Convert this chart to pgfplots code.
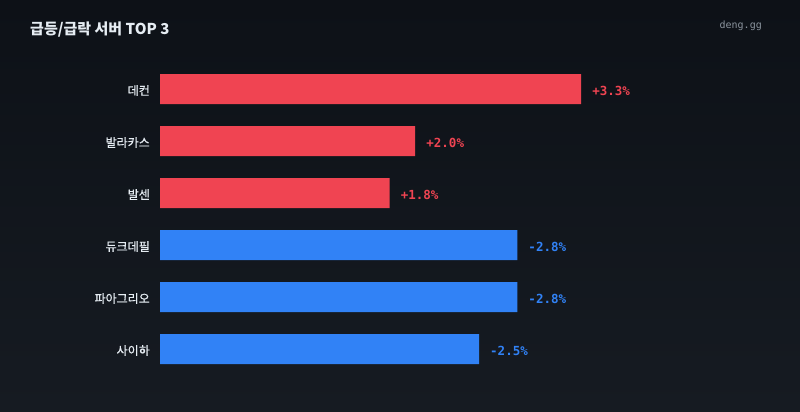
\documentclass[border=0pt]{standalone}
\usepackage{fontspec}
\setmainfont{Noto Sans CJK KR}
\newfontfamily\monofont{DejaVu Sans Mono}
\newfontfamily\labfont[FakeBold=0.6]{Noto Sans CJK KR}
\usepackage{pgfplots}
\usepackage{pgfplotstable}
\pgfplotsset{compat=1.18}
\definecolor{bgtop}{HTML}{0D1117}
\definecolor{bgbot}{HTML}{161B22}
\definecolor{upred}{HTML}{F04452}
\definecolor{downblue}{HTML}{3182F6}
\definecolor{fg}{HTML}{E6EDF3}
\definecolor{muted}{HTML}{8B949E}
\pgfplotstableread{
val pos lab
3.3 0 +3.3\%
2.0 1 +2.0\%
1.8 2 +1.8\%
}\uptable
\pgfplotstableread{
val pos lab
2.8 3 -2.8\%
2.8 4 -2.8\%
2.5 5 -2.5\%
}\downtable
\begin{document}
\begin{tikzpicture}[x=1pt,y=1pt]
\shade[top color=bgtop,bottom color=bgbot] (0,0) rectangle (800,412);
\node[anchor=base west,font=\bfseries\fontsize{15}{18}\selectfont,text=fg,inner sep=0] at (30,377) {급등/급락 서버 TOP 3};
\node[anchor=base east,font=\monofont\fontsize{10}{12}\selectfont,text=muted,inner sep=0] at (762,383) {deng.gg};
\begin{axis}[
  at={(160pt,37pt)}, anchor=south west,
  scale only axis, width=574.2pt, height=312pt,
  xmin=0, xmax=4.5, ymin=-0.5, ymax=5.5,
  y dir=reverse,
  xbar, bar width=30pt, bar shift=0pt,
  axis line style={draw=none},
  xtick=\empty,
  ytick={0,1,2,3,4,5},
  yticklabels={데컨,발라카스,발센,듀크데필,파아그리오,사이하},
  major tick length=0pt,
  yticklabel style={font=\labfont\fontsize{12}{14}\selectfont, text=fg, inner sep=0pt, xshift=-10pt, yshift=-1.5pt},
  clip=false,
  nodes near coords={\pgfplotspointmeta},
  point meta=explicit symbolic,
  nodes near coords style={anchor=west, inner sep=0pt, xshift=11pt, yshift=-1.5pt, font=\monofont\bfseries\fontsize{12.5}{14}\selectfont},
]
\addplot[fill=upred, draw=none, nodes near coords style={text=upred}] table[x=val, y=pos, meta=lab] {\uptable};
\addplot[fill=downblue, draw=none, nodes near coords style={text=downblue}] table[x=val, y=pos, meta=lab] {\downtable};
\end{axis}
\end{tikzpicture}
\end{document}
